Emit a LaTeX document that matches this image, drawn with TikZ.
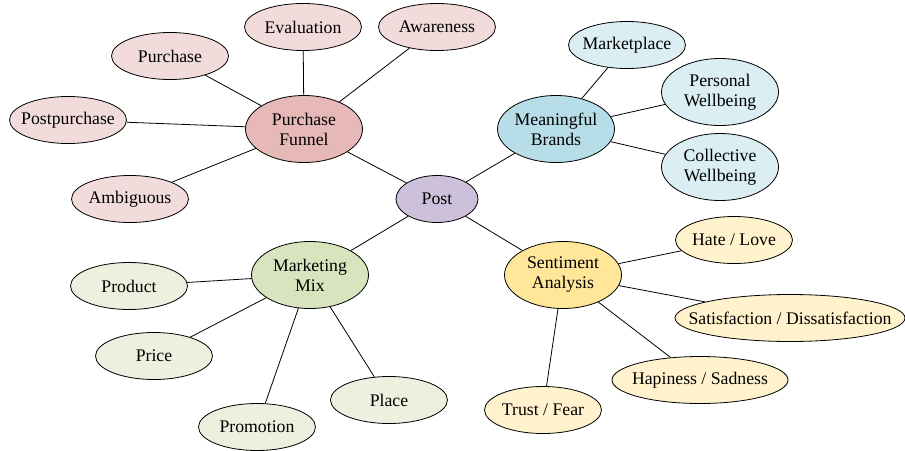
\documentclass[tikz,border=0pt]{standalone}
\usepackage{fontspec}
\setmainfont{Liberation Serif}
\usepackage{tikz}
\usetikzlibrary{shapes.geometric}
\definecolor{funnelhub}{HTML}{E6B8B7}
\definecolor{funnelleaf}{HTML}{F2DCDB}
\definecolor{posthub}{HTML}{CCC0DA}
\definecolor{brandhub}{HTML}{B7DEE8}
\definecolor{brandleaf}{HTML}{DAEEF3}
\definecolor{mixhub}{HTML}{D7E4BD}
\definecolor{mixleaf}{HTML}{EBF1DE}
\definecolor{sentihub}{HTML}{FFE699}
\definecolor{sentileaf}{HTML}{FFF2CC}
\tikzset{
    bubble/.style={ellipse, draw, line width=0.6pt, inner ysep=0pt, inner xsep=-5pt, align=center,
            font=\fontsize{13.3}{15}\selectfont, minimum width=87.75pt, minimum height=35.25pt},
    hub/.style={bubble, minimum height=50.25pt},
    link/.style={line width=0.6pt},
}

\begin{document}
\begin{tikzpicture}[x=0.75pt, y=-0.75pt]
        \useasboundingbox (0, 0) rectangle (905, 450);
        %center node
        \node[bubble, fill=posthub, minimum width=61.5pt] (post) at (437, 199) {Post};
        %four hubs
        \node[hub, fill=funnelhub] (funnel) at (304, 129) {Purchase\\Funnel};
        \node[hub, fill=brandhub] (brands) at (556, 129) {Meaningful\\Brands};
        \node[hub, fill=mixhub] (mix) at (310, 275) {Marketing\\Mix};
        \node[hub, fill=sentihub] (senti) at (563, 275) {Sentiment\\Analysis};
        %purchase funnel leaves
        \node[bubble, fill=funnelleaf] (evaluation) at (303, 27) {Evaluation};
        \node[bubble, fill=funnelleaf] (awareness) at (437, 27) {Awareness};
        \node[bubble, fill=funnelleaf] (purchase) at (170, 56) {Purchase};
        \node[bubble, fill=funnelleaf] (postpurchase) at (68, 120) {Postpurchase};
        \node[bubble, fill=funnelleaf] (ambiguous) at (130, 199) {Ambiguous};
        %meaningful brands leaves
        \node[bubble, fill=brandleaf] (marketplace) at (627, 45) {Marketplace};
        \node[hub, fill=brandleaf] (personal) at (720, 92) {Personal\\Wellbeing};
        \node[hub, fill=brandleaf] (collective) at (720, 167) {Collective\\Wellbeing};
        %marketing mix leaves
        \node[bubble, fill=mixleaf] (product) at (129, 286) {Product};
        \node[bubble, fill=mixleaf] (price) at (154, 356) {Price};
        \node[bubble, fill=mixleaf] (promotion) at (257, 427) {Promotion};
        \node[bubble, fill=mixleaf] (place) at (389, 400) {Place};
        %sentiment analysis leaves
        \node[bubble, fill=sentileaf] (hatelove) at (734, 240) {Hate / Love};
        \node[bubble, fill=sentileaf, inner xsep=-15.5pt, minimum width=172.5pt] (satisfaction) at (790, 318) {Satisfaction / Dissatisfaction};
        \node[bubble, fill=sentileaf, inner xsep=-4.5pt, minimum width=132pt] (hapiness) at (700, 380) {Hapiness / Sadness};
        \node[bubble, fill=sentileaf] (trustfear) at (543, 410) {Trust / Fear};
        %connect hubs to center
        \draw[link] (post) -- (funnel);
        \draw[link] (post) -- (brands);
        \draw[link] (post) -- (mix);
        \draw[link] (post) -- (senti);
        %connect leaves to hubs
        \foreach \leaf in {evaluation, awareness, purchase, postpurchase, ambiguous}
            \draw[link] (funnel) -- (\leaf);
        \foreach \leaf in {marketplace, personal, collective}
            \draw[link] (brands) -- (\leaf);
        \foreach \leaf in {product, price, promotion, place}
            \draw[link] (mix) -- (\leaf);
        \foreach \leaf in {hatelove, satisfaction, hapiness, trustfear}
            \draw[link] (senti) -- (\leaf);
    \end{tikzpicture}
\end{document}
